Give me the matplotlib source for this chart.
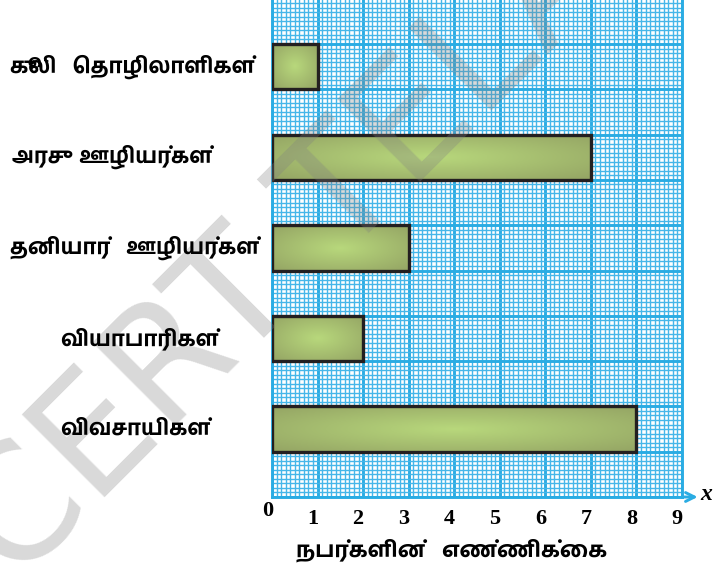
import numpy as np
import matplotlib
matplotlib.use("Agg")
import matplotlib.pyplot as plt
from matplotlib.transforms import offset_copy

# தொழில் வாரியாக நபர்களின் எண்ணிக்கை
occupations = ['விவசாயிகள்', 'வியாபாரிகள்', 'தனியார்   ஊழியர்கள்',
               'அரசு   ஊழியர்கள்', 'கூலி   தொழிலாளிகள்']
counts = [8, 2, 3, 7, 1]
x_ticks = [0, 1, 2, 3, 4, 5, 6, 7, 8, 9]
x_title = 'நபர்களின்   எண்ணிக்கை'
watermark = 'SCERT TELANGANA'

label_font = ['Hind Madurai', 'DejaVu Sans']

# two-part vowel signs and the signs written before the consonant
SPLIT = {'\u0bca': '\u0bc6\u0bbe', '\u0bcb': '\u0bc7\u0bbe',
         '\u0bcc': '\u0bc6\u0bd7'}
PREBASE = '\u0bc6\u0bc7\u0bc8'


def visual(s):
    # matplotlib does no complex shaping, so put the prebase vowel signs
    # in front of their consonant by hand
    out = []
    for ch in s:
        for p in SPLIT.get(ch, ch):
            if p in PREBASE and out:
                out.insert(len(out) - 1, p)
            else:
                out.append(p)
    return ''.join(out)


fig = plt.figure(figsize=(7.13, 5.69), dpi=100)
ax = fig.add_axes([272 / 713, 72 / 569, 410 / 713, 497 / 569])
ax.set_xlim(0, 9)
ax.set_ylim(0, 497 / 45.3)

# graph paper
blue = '#2aace3'
ax.set_xticks(x_ticks)
ax.set_xticks(np.arange(0, 9.01, 0.1), minor=True)
ax.set_yticks(np.arange(0, 11))
ax.set_yticks(np.arange(0, 11, 0.1), minor=True)
ax.grid(which='major', color=blue, lw=2.1)
ax.grid(which='minor', color='#45b6e9', lw=1.0)
ax.set_axisbelow(True)
ax.tick_params(which='both', length=0)
ax.set_yticklabels([])
for s in ['left', 'bottom', 'right']:
    ax.spines[s].set_color(blue)
    ax.spines[s].set_linewidth(2.1)
ax.spines['top'].set_visible(False)

# bars with a soft radial shading
y_pos = 1.5 + 2 * np.arange(len(counts))
bars = ax.barh(y_pos, counts, height=1, facecolor='none',
               edgecolor='#231f20', lw=2.4, zorder=4)
u, v = np.meshgrid(np.linspace(-1, 1, 200), np.linspace(-1, 1, 60))
r = np.clip(np.sqrt(u ** 2 + v ** 2) / np.sqrt(2), 0, 1)[..., None]
c_in = np.array([184, 216, 124]) / 255
c_out = np.array([148, 164, 100]) / 255
shade = c_in * (1 - r) + c_out * r
for b, n, y in zip(bars, counts, y_pos):
    im = ax.imshow(shade, extent=[0, n, y - 0.5, y + 0.5], aspect='auto',
                   zorder=3, interpolation='bilinear')
    im.set_clip_path(b)

# x tick labels, serif bold
ax.set_xticklabels([''] + [str(t) for t in x_ticks[1:]],
                   family='Liberation Serif', weight='bold', fontsize=16)
for lab in ax.get_xticklabels():
    lab.set_transform(offset_copy(lab.get_transform(), fig=fig, x=-5, y=-7,
                                  units='dots'))
fig.text(268 / 713, 1 - 511 / 569, '0', family='Liberation Serif',
         weight='bold', fontsize=16, ha='center', va='center')

# axis arrow and name
ax.annotate('', xy=(1.045, 0), xytext=(0.995, 0), xycoords='axes fraction',
            arrowprops=dict(arrowstyle='->', color=blue, lw=2.1,
                            mutation_scale=16), annotation_clip=False)
fig.text(706 / 713, 1 - 495 / 569, 'x', family='Liberation Serif',
         style='italic', weight='bold', fontsize=17, ha='center', va='center')
fig.text(452 / 713, 1 - 550 / 569, visual(x_title), family=label_font,
         weight='bold', fontsize=16, ha='center', va='center')

# category names to the left of the bars
label_left = [60, 60, 10, 12, 10]
for name, y, lx in zip(occupations, y_pos, label_left):
    fig.text(lx / 713, (72 + y * 45.3) / 569, visual(name), family=label_font,
             weight='bold', fontsize=15.5, ha='left', va='center')

# faint diagonal watermark across the sheet
fig.text(-56 / 713, 1 - 659 / 569, watermark, family='DejaVu Sans',
         fontsize=115, color='#808080', alpha=0.3, rotation=45,
         rotation_mode='anchor', ha='left', va='baseline', zorder=1)

fig.savefig('out.png', dpi=100)
